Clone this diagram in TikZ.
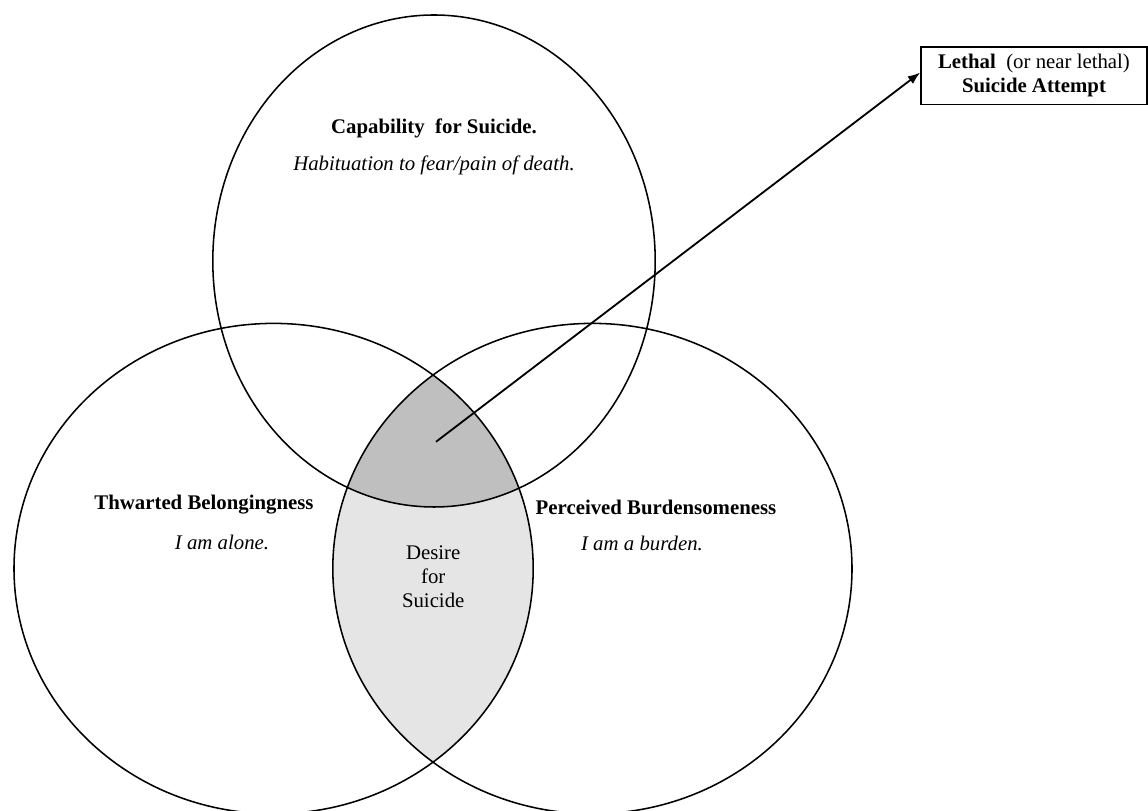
\documentclass[tikz,border=0pt]{standalone}
\usepackage{fontspec}
\setmainfont{Liberation Serif}
\usetikzlibrary{arrows.meta}

\definecolor{lensgray}{gray}{0.9}
\definecolor{coregray}{gray}{0.75}

\begin{document}
\begin{tikzpicture}[
  every node/.style={font=\fontsize{14.8}{17}\selectfont},
  ring/.style={line width=1.1pt},
  boxed/.style={draw, line width=1.2pt, minimum width=5.65cm, minimum height=1.43cm, align=center}]
\useasboundingbox (0,0) rectangle (28.7,20.275);

% shaded overlaps
\begin{scope}
\clip (6.84,6.06) ellipse [x radius=6.49, y radius=6.13];
\fill [lensgray] (14.81,6.06) ellipse [x radius=6.49, y radius=6.13];
\end{scope}
\begin{scope}
\clip (6.84,6.06) ellipse [x radius=6.49, y radius=6.13];
\clip (14.81,6.06) ellipse [x radius=6.49, y radius=6.13];
\fill [coregray] (10.85,13.75) ellipse [x radius=5.53, y radius=6.15];
\end{scope}

% the three circles
\draw [ring] (10.85,13.75) ellipse [x radius=5.53, y radius=6.15];
\draw [ring] (6.84,6.06) ellipse [x radius=6.49, y radius=6.13];
\draw [ring] (14.81,6.06) ellipse [x radius=6.49, y radius=6.13];

\node [align=center] (cap) at (10.85,17.07) {\textbf{Capability\ \ for Suicide.}};
\node [align=center] (habit) at (10.85,16.15) {\textit{Habituation to fear/pain of death.}};

\node [align=center] (thw) at (5.1,7.65) {\textbf{Thwarted Belongingness}};
\node [align=center] (alone) at (5.55,6.72) {\textit{I am alone.}};

\node [align=center] (burd) at (16.4,7.6) {\textbf{Perceived Burdensomeness}};
\node [align=center] (burden) at (16.05,6.7) {\textit{I am a burden.}};

\node [align=center] (desire) at (10.83,5.85) {Desire\\for\\Suicide};

\node [boxed] (lethal) at (25.85,18.38) {\textbf{Lethal}\ \ (or near lethal)\\\textbf{Suicide Attempt}};

\coordinate (core) at (10.9,9.23);
\draw [-Latex, line width=1.3pt] (core) -- ([yshift=0.08cm]lethal.west);

\end{tikzpicture}
\end{document}
